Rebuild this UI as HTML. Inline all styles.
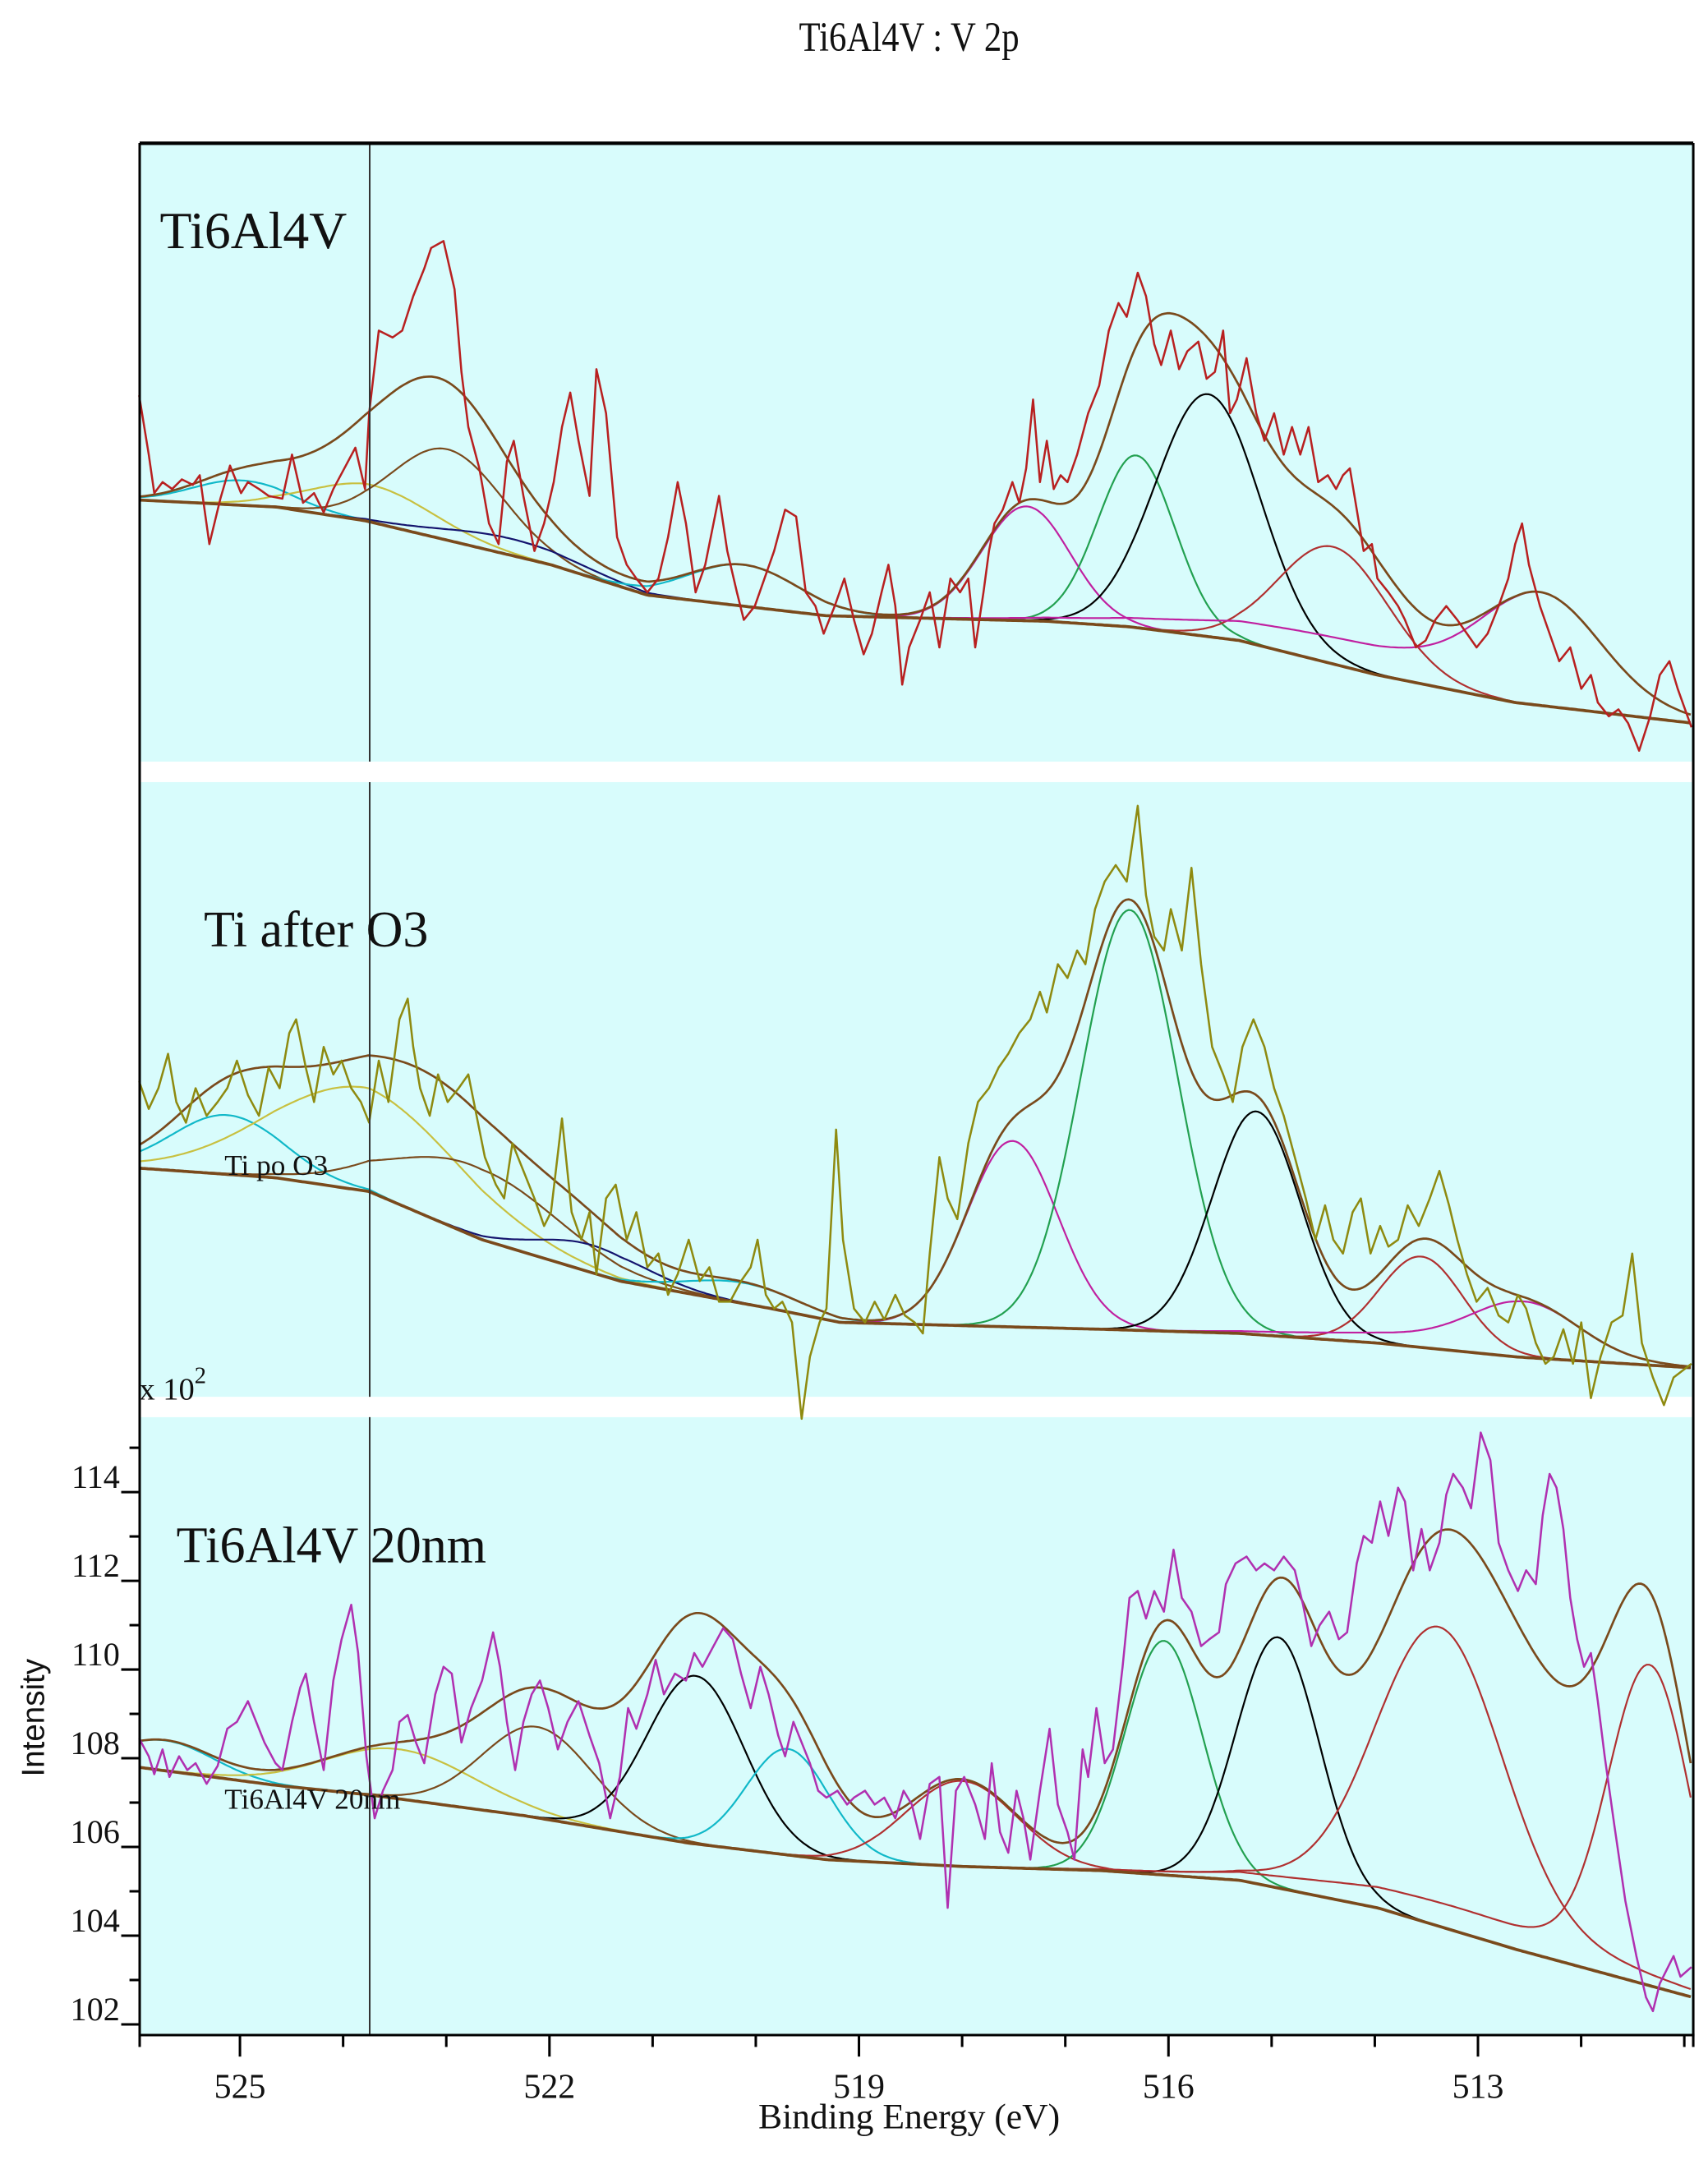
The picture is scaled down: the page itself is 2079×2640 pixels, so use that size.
<!DOCTYPE html>
<html><head><meta charset="utf-8"><style>
html,body{margin:0;padding:0;background:#fff}
svg{display:block}
text{font-family:"Liberation Serif",serif;fill:#111}
</style></head><body>
<svg id="s" width="2079" height="2640" viewBox="0 0 1240 1574.6" xmlns="http://www.w3.org/2000/svg">
<rect x="0" y="0" width="1240" height="1574.6" fill="#fff"/>
<rect x="101.4" y="103.8" width="1127.9" height="1373.6" fill="#d8fcfc"/>
<rect x="101.4" y="552.9" width="1127.9" height="14.9" fill="#fff"/>
<rect x="101.4" y="1014" width="1127.9" height="14.8" fill="#fff"/>
<g id="curves" fill="none" stroke-linejoin="round"></g>
<line x1="268.4" y1="103.8" x2="268.4" y2="552.9" stroke="#333" stroke-width="1.2"/>
<line x1="268.4" y1="567.8" x2="268.4" y2="1014" stroke="#333" stroke-width="1.2"/>
<line x1="268.4" y1="1028.8" x2="268.4" y2="1477.4" stroke="#333" stroke-width="1.2"/>
<line x1="101.4" y1="104" x2="1229.3" y2="104" stroke="#000" stroke-width="2.6"/>
<line x1="101.4" y1="103.8" x2="101.4" y2="1477.4" stroke="#000" stroke-width="1.8"/>
<line x1="1229.3" y1="103.8" x2="1229.3" y2="1477.4" stroke="#000" stroke-width="1.8"/>
<line x1="100.5" y1="1477.4" x2="1230.2" y2="1477.4" stroke="#000" stroke-width="1.8"/>
<g id="ticks" stroke="#000" stroke-width="1.8"></g>
<text x="660" y="37" font-size="30" text-anchor="middle" transform="translate(660 0) scale(0.85 1) translate(-660 0)">Ti6Al4V : V 2p</text>
<text x="116" y="180" font-size="38">Ti6Al4V</text>
<text x="148" y="687" font-size="37">Ti after O3</text>
<text x="128" y="1134" font-size="37">Ti6Al4V 20nm</text>
<text x="163" y="853" font-size="21">Ti po O3</text>
<text x="163" y="1313" font-size="21">Ti6Al4V 20nm</text>
<text x="101" y="1016" font-size="23">x 10<tspan font-size="17" dy="-12">2</tspan></text>
<text x="660" y="1545" font-size="26" text-anchor="middle">Binding Energy (eV)</text>
<text x="0" y="0" font-size="23" text-anchor="middle" transform="translate(32 1247) rotate(-90)" style="font-family:'Liberation Sans',sans-serif">Intensity</text>
<g id="lbl" font-size="25"></g>
</svg>
<script>
const NS="http://www.w3.org/2000/svg";
const C=document.getElementById('curves'),T=document.getElementById('ticks'),L=document.getElementById('lbl');
function el(p,tag,a,txt){const e=document.createElementNS(NS,tag);for(const k in a)e.setAttribute(k,a[k]);if(txt!==undefined)e.textContent=txt;p.appendChild(e);return e;}
function X(E){return 174.2+(525-E)*74.9;}
for(let v=102;v<=115;v++){const y=1469.6-(v-102)*32.2;const major=(v%2==0);el(T,'line',{x1:101.4,x2:major?88:94,y1:y,y2:y});if(major)el(L,'text',{x:87,y:y-3,'text-anchor':'end','font-size':24},String(v));}
for(let E=526;E>=511;E--){const x=X(E);if(x<100||x>1231)continue;const major=((525-E)%3==0);el(T,'line',{x1:x,x2:x,y1:1477.4,y2:major?1493:1486});if(major)el(L,'text',{x:x,y:1523,'text-anchor':'middle'},String(E));}
el(T,'line',{x1:101.4,x2:101.4,y1:1477.4,y2:1486});el(T,'line',{x1:1229.3,x2:1229.3,y1:1477.4,y2:1486});
function interp(pts,x){if(x<=pts[0][0])return pts[0][1];for(let i=1;i<pts.length;i++){if(x<=pts[i][0]){const a=pts[i-1],b=pts[i];return a[1]+(b[1]-a[1])*(x-a[0])/(b[0]-a[0]);}}return pts[pts.length-1][1];}
function g(c,h,s){return x=>h*Math.exp(-(x-c)*(x-c)/(2*s*s));}
function path(f,col,w,x0,x1){x0=x0||101.4;x1=x1||1229;let d='';for(let x=x0;x<=x1;x+=2){d+=(d?'L':'M')+x.toFixed(1)+' '+f(x).toFixed(1);}el(C,'path',{d:d,stroke:col,'stroke-width':w});}
function poly(pts,col,w){el(C,'polyline',{points:pts.map(p=>p.join(',')).join(' '),stroke:col,'stroke-width':w});}
function panel(bg,comps,hidden,raw,rawcol){
 const B=x=>interp(bg,x);
 const all=comps.map(c=>c.f).concat(hidden);
 comps.forEach(c=>{path(x=>B(x)-c.f(x),c.col,1.3);});
 path(x=>B(x)-all.reduce((s,f)=>s+f(x),0),'#7a4a1c',1.6);
 path(B,'#7a4a1c',2.2);
 poly(raw,rawcol,1.5);
}
const bg1=[[101,363],[200,368],[265,378],[400,410],[470,432],[600,447],[760,451],[820,455],[900,465],[1000,490],[1100,510],[1229,525]];
const raw1=[[101,287],[108,330],[112,358],[118,350],[125,355],[132,348],[140,352],[145,345],[152,395],[160,362],[167,338],[175,358],[180,350],[188,355],[195,360],[205,362],[212,330],[220,365],[228,358],[235,372],[242,355],[250,340],[258,325],[265,355],[268,300],[275,240],[285,245],[292,240],[300,215],[308,195],[313,180],[322,175],[330,210],[335,270],[340,310],[348,340],[355,380],[362,395],[368,335],[373,320],[380,360],[388,400],[395,380],[402,350],[408,310],[414,285],[420,320],[428,360],[433,268],[440,300],[448,390],[455,410],[462,420],[470,430],[478,420],[485,390],[492,350],[498,380],[505,430],[512,410],[518,380],[522,360],[528,400],[535,430],[540,450],[548,440],[555,420],[562,400],[570,370],[578,375],[585,430],[592,440],[598,460],[606,440],[613,420],[620,450],[627,475],[633,460],[640,430],[645,410],[650,440],[655,497],[660,470],[668,450],[675,430],[682,470],[690,420],[697,430],[703,420],[708,470],[714,430],[718,400],[722,380],[728,370],[735,350],[740,365],[745,340],[750,290],[755,350],[760,320],[765,355],[770,345],[775,350],[782,330],[790,300],[798,280],[805,240],[812,220],[818,230],[826,198],[832,215],[838,250],[843,265],[850,240],[856,268],[862,255],[870,248],[876,275],[882,270],[888,240],[893,300],[898,290],[905,260],[912,300],[918,320],[925,300],[932,330],[938,310],[944,330],[950,310],[957,350],[964,345],[970,355],[975,345],[980,340],[985,370],[990,400],[996,395],[1000,420],[1008,430],[1015,440],[1020,450],[1028,470],[1035,465],[1042,450],[1050,440],[1058,450],[1065,460],[1072,470],[1080,460],[1088,440],[1095,420],[1100,395],[1105,380],[1110,410],[1118,440],[1125,460],[1132,480],[1140,470],[1148,500],[1155,490],[1160,510],[1168,520],[1175,515],[1182,525],[1190,545],[1198,520],[1205,490],[1212,480],[1218,500],[1228,528]];
const mbase1=g(1000,20,120);
panel(bg1,[
 {f:g(175,18,35),col:'#10b8c8'},
 {f:g(270,27,45),col:'#c8c040'},
 {f:g(325,66,40),col:'#7a4a1c'},
 {f:g(370,12,50),col:'#14146e'},
 {f:g(540,30,40),col:'#10b8c8'},
 {f:g(745,83,32),col:'#c020a0'},
 {f:g(825,125,28),col:'#22a050'},
 {f:g(877,176,38),col:'#000'},
 {f:g(968,85,40),col:'#b03030'},
 {f:x=>mbase1(x)+g(1120,70,42)(x),col:'#c020a0'}
],[g(300,30,70)],raw1,'#b82020');
const bg2=[[101,848],[200,855],[268,865],[350,900],[450,930],[560,950],[610,960],[800,965],[900,968],[1000,975],[1100,985],[1229,993]];
const raw2=[[101,785],[108,805],[115,790],[122,765],[128,800],[135,815],[142,790],[150,810],[158,800],[165,790],[172,770],[180,795],[188,810],[195,775],[203,790],[210,750],[215,740],[222,775],[228,800],[235,760],[242,780],[248,770],[255,790],[262,800],[268,815],[275,770],[282,800],[290,740],[296,725],[300,760],[305,790],[312,810],[318,780],[325,800],[333,790],[340,780],[346,810],[352,840],[360,860],[366,870],[372,830],[380,850],[388,870],[395,890],[400,880],[408,812],[415,880],[422,900],[428,880],[433,925],[440,870],[447,860],[455,900],[462,880],[470,920],[478,910],[485,940],[492,925],[500,900],[508,930],[515,920],[522,945],[530,945],[538,930],[545,920],[550,900],[556,940],[562,950],[568,945],[575,960],[582,1030],[588,985],[595,960],[600,950],[607,820],[612,900],[620,950],[628,960],[635,945],[642,958],[650,940],[657,955],[664,960],[670,968],[675,910],[682,840],[688,870],[695,885],[703,830],[710,800],[718,790],[725,775],[732,765],[740,750],[748,740],[755,720],[760,735],[768,700],[775,710],[782,690],[788,700],[795,660],[802,640],[810,628],[818,640],[826,585],[832,650],[838,680],[845,690],[850,660],[858,690],[865,630],[872,700],[880,760],[888,780],[895,800],[902,760],[910,740],[918,760],[925,790],[932,810],[940,840],[948,870],[955,900],[962,875],[968,900],[975,910],[982,880],[988,870],[995,910],[1002,890],[1008,905],[1015,900],[1022,875],[1030,890],[1038,870],[1045,850],[1052,875],[1058,900],[1065,925],[1072,945],[1080,935],[1088,955],[1095,960],[1102,940],[1108,950],[1115,975],[1122,990],[1128,985],[1135,965],[1142,990],[1148,960],[1155,1015],[1162,985],[1170,960],[1178,955],[1185,910],[1192,975],[1200,1000],[1208,1020],[1215,1000],[1228,990]];
panel(bg2,[
 {f:g(165,43,40),col:'#10b8c8'},
 {f:g(265,75,70),col:'#c8c040'},
 {f:g(345,51,60),col:'#7a4a1c'},
 {f:g(430,20,40),col:'#14146e'},
 {f:g(540,15,40),col:'#10b8c8'},
 {f:g(735,135,33),col:'#c020a0'},
 {f:g(820,305,35),col:'#22a050'},
 {f:g(912,162,32),col:'#000'},
 {f:g(1032,66,30),col:'#b03030'},
 {f:x=>g(1040,8,80)(x)+g(1108,35,38)(x),col:'#c020a0'}
],[],raw2,'#8e8a10');
const bg3=[[101,1283],[200,1296],[268,1303],[380,1318],[500,1338],[600,1350],[700,1355],[800,1358],[900,1365],[1000,1385],[1100,1415],[1229,1450]];
const raw3=[[101,1262],[108,1275],[112,1288],[118,1270],[123,1290],[130,1275],[136,1285],[142,1280],[150,1295],[158,1282],[165,1255],[172,1250],[180,1235],[186,1250],[192,1265],[200,1280],[205,1285],[212,1250],[218,1225],[222,1215],[228,1250],[235,1285],[242,1220],[248,1190],[255,1165],[260,1200],[266,1275],[272,1320],[278,1300],[285,1285],[290,1250],[296,1245],[302,1265],[308,1280],[316,1230],[322,1210],[328,1215],[335,1265],[342,1240],[350,1220],[358,1185],[363,1210],[368,1250],[374,1285],[380,1250],[386,1230],[392,1220],[398,1240],[405,1270],[412,1250],[420,1235],[428,1260],[435,1280],[443,1320],[450,1290],[456,1240],[462,1255],[470,1230],[476,1205],[482,1230],[490,1215],[498,1220],[504,1200],[510,1210],[518,1195],[525,1182],[532,1190],[538,1215],[545,1240],[552,1210],[558,1230],[565,1260],[570,1275],[576,1250],[582,1265],[588,1280],[594,1300],[600,1305],[608,1300],[615,1310],[620,1305],[628,1300],[635,1310],[642,1305],[650,1320],[656,1300],[662,1310],[668,1335],[675,1295],[682,1290],[688,1385],[694,1300],[700,1290],[708,1310],[715,1335],[720,1280],[726,1330],[732,1345],[738,1300],[743,1320],[748,1350],[755,1300],[762,1255],[768,1310],[775,1330],[780,1350],[786,1270],[790,1290],[796,1240],[802,1280],[808,1270],[815,1210],[820,1160],[826,1155],[832,1175],[838,1155],[845,1170],[852,1125],[858,1160],[865,1170],[872,1195],[878,1190],[885,1185],[890,1150],[897,1135],[905,1130],[912,1140],[918,1135],[925,1140],[932,1130],[940,1140],[946,1165],[952,1195],[958,1180],[965,1170],[972,1190],[978,1185],[985,1135],[990,1115],[996,1120],[1002,1090],[1008,1115],[1015,1080],[1020,1090],[1026,1140],[1032,1110],[1038,1140],[1045,1120],[1050,1085],[1055,1070],[1062,1080],[1068,1095],[1075,1040],[1082,1060],[1088,1120],[1095,1140],[1102,1155],[1108,1140],[1115,1150],[1120,1100],[1125,1070],[1130,1080],[1135,1110],[1140,1160],[1145,1190],[1150,1210],[1155,1200],[1160,1235],[1165,1275],[1172,1325],[1180,1380],[1188,1420],[1195,1450],[1200,1460],[1205,1440],[1210,1430],[1215,1420],[1220,1435],[1228,1428]];
const ex3=g(1060,35,110);
panel(bg3,[
 {f:g(120,22,35),col:'#10b8c8'},
 {f:g(290,36,55),col:'#c8c040'},
 {f:g(390,66,40),col:'#7a4a1c'},
 {f:g(505,122,35),col:'#000'},
 {f:g(572,77,30),col:'#10b8c8'},
 {f:g(698,62,40),col:'#b03030'},
 {f:g(845,170,28),col:'#22a050'},
 {f:g(928,182,30),col:'#000'},
 {f:x=>g(1045,200,45)(x)+ex3(x)*0.5,col:'#b03030'},
 {f:x=>g(1198,225,30)(x)+ex3(x)*0.5,col:'#b03030'}
],[g(480,40,80),ex3,g(1128,95,45)],raw3,'#b030b0');
</script>
</body></html>
